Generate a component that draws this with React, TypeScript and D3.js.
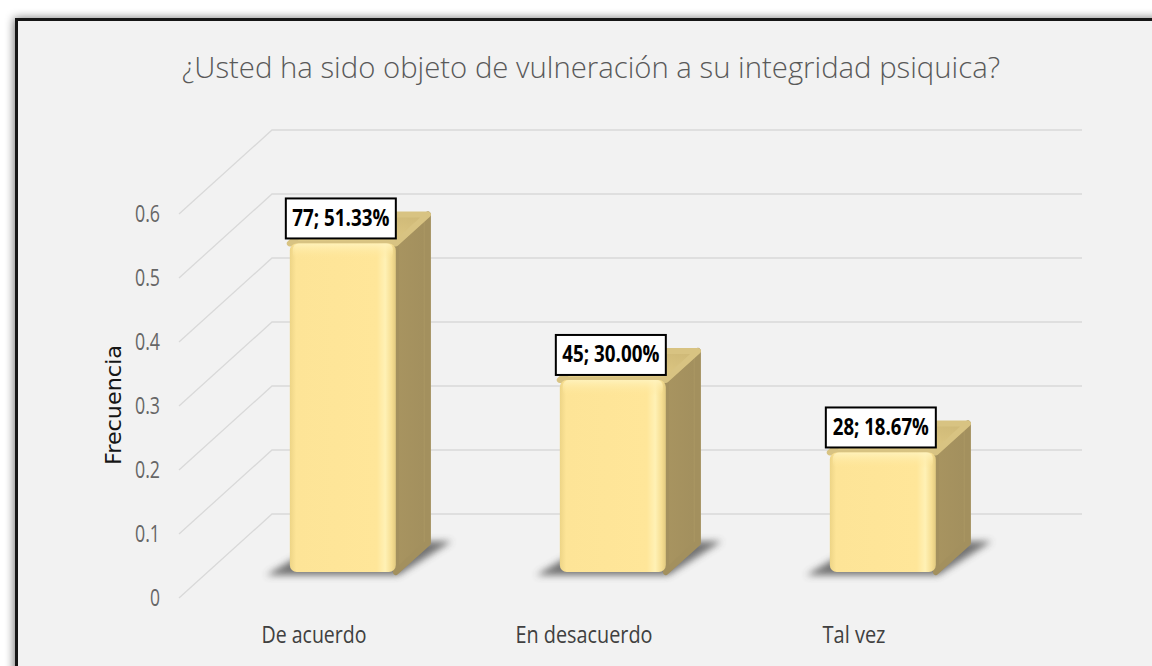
import React, { useEffect } from "react";
import * as d3 from "d3";

const categories = ["De acuerdo", "En desacuerdo", "Tal vez"];
const counts = [77, 45, 28];
const values = [0.5133, 0.3, 0.1867];
const valueLabels = ["77; 51.33%", "45; 30.00%", "28; 18.67%"];
const labelWidths = [97, 97, 96];
const categoryWidths = [105, 137, 63];
const yTicks = [0, 0.1, 0.2, 0.3, 0.4, 0.5, 0.6];
const titleText = "¿Usted ha sido objeto de vulneración a su integridad psiquica?";
const yAxisTitle = "Frecuencia";

const W = 1152;
const H = 666;
const DX = 93;
const DY = -84;
const D0 = 0.31;
const D1 = 0.655;

export default function App() {
  useEffect(() => {
    document.body.style.margin = "0";
    document.body.style.overflow = "hidden";
  }, []);
  const x = d3.scaleBand<string>().domain(categories).range([179, 989]);
  const y = d3.scaleLinear().domain([0, 0.6]).range([598, 214]);
  const barW = 106;
  const proj = (px: number, v: number, d: number): [number, number] => [px + d * DX, y(v) + d * DY];
  const pts = (arr: [number, number][]) => arr.map((p) => p.join(",")).join(" ");

  return (
    <svg width={W} height={H} style={{ position: "absolute", left: 0, top: 0 }} xmlns="http://www.w3.org/2000/svg">
      <defs>
        <filter id="frameShadow" x="-10%" y="-10%" width="120%" height="120%">
          <feGaussianBlur stdDeviation="5" />
        </filter>
        <filter id="barShadow" x="-30%" y="-100%" width="160%" height="300%">
          <feGaussianBlur stdDeviation="3.5" />
        </filter>
        <linearGradient id="frontGrad" x1="0" x2="1" y1="0" y2="0">
          <stop offset="0" stopColor="#EDD486" />
          <stop offset="0.06" stopColor="#FDE497" />
          <stop offset="0.82" stopColor="#FFE699" />
          <stop offset="0.9" stopColor="#FFF1B5" />
          <stop offset="0.96" stopColor="#F6DE92" />
          <stop offset="1" stopColor="#E2CA80" />
        </linearGradient>
        <linearGradient id="frontTop" x1="0" x2="0" y1="0" y2="1">
          <stop offset="0" stopColor="#FFF3BE" stopOpacity="0.9" />
          <stop offset="1" stopColor="#FFE699" stopOpacity="0" />
        </linearGradient>
        <linearGradient id="topGrad" x1="0" x2="1" y1="1" y2="0">
          <stop offset="0" stopColor="#E9D38C" />
          <stop offset="1" stopColor="#CDB776" />
        </linearGradient>
        <linearGradient id="sideGrad" x1="0" x2="1" y1="0" y2="0">
          <stop offset="0" stopColor="#A89460" />
          <stop offset="0.85" stopColor="#A3905E" />
          <stop offset="1" stopColor="#B8A46C" />
        </linearGradient>
      </defs>

      <rect x={0} y={0} width={W} height={H} fill="#ffffff" />
      <rect x={14} y={18} width={1200} height={700} fill="#000" opacity={0.55} filter="url(#frameShadow)" />
      <rect x={16.5} y={19.5} width={1200} height={700} fill="#f2f2f2" stroke="#161616" strokeWidth={3} />

      <text
        x={591}
        y={78}
        textAnchor="middle"
        fontFamily="'Open Sans', sans-serif"
        fontWeight={300}
        fontSize={30}
        fill="#595959"
        textLength={818}
        lengthAdjust="spacingAndGlyphs"
      >
        {titleText}
      </text>

      {yTicks.map((t) => {
        const [fx, fy] = proj(179, t, 0);
        const [bx, by] = proj(179, t, 1);
        return (
          <g key={t}>
            <polyline points={pts([[fx, fy], [bx, by], [989 + DX, by]])} fill="none" stroke="#d9d9d9" strokeWidth={1.3} />
            <text
              x={160}
              y={fy + 2}
              textAnchor="end"
              dominantBaseline="middle"
              fontFamily="'Open Sans', sans-serif"
              fontSize={24}
              fill="#666666"
              textLength={String(t).length > 1 ? 25 : 10}
              lengthAdjust="spacingAndGlyphs"
            >
              {String(t)}
            </text>
          </g>
        );
      })}

      <text
        transform={`translate(121,405) rotate(-90)`}
        textAnchor="middle"
        fontFamily="'DejaVu Sans', sans-serif"
        fontSize={21}
        fill="#151515"
        textLength={120}
        lengthAdjust="spacingAndGlyphs"
      >
        {yAxisTitle}
      </text>

      {categories.map((c, i) => {
        const left = (x(c) as number) + (x.bandwidth() - barW) / 2;
        const right = left + barW;
        const v = values[i];
        const fl0 = proj(left, 0, D0);
        const fr0 = proj(right, 0, D0);
        const flT = proj(left, v, D0);
        const frT = proj(right, v, D0);
        const brT = proj(right, v, D1);
        const blT = proj(left, v, D1);
        const br0 = proj(right, 0, D1);
        const sh = [
          proj(left - 20, 0, D0 - 0.04),
          proj(right + 6, 0, D0 - 0.04),
          proj(right + 22, 0, D1 + 0.02),
          proj(left, 0, D1 + 0.02),
        ] as [number, number][];
        const faceW = fr0[0] - fl0[0];
        const faceH = fl0[1] - flT[1];
        const cx = (fl0[0] + fr0[0]) / 2 - 2;
        const boxW = 110;
        const boxH = 40;
        const boxBottom = flT[1] - 5;
        return (
          <g key={c}>
            <polygon points={pts(sh)} fill="#4a4a4a" opacity={0.75} filter="url(#barShadow)" />
            <polygon
              points={pts([frT, brT, br0, fr0])}
              fill="url(#sideGrad)"
              stroke="#A3905E"
              strokeWidth={6}
              strokeLinejoin="round"
            />
            <polygon
              points={pts([flT, frT, brT, blT])}
              fill="url(#topGrad)"
              stroke="#D8C382"
              strokeWidth={6}
              strokeLinejoin="round"
            />
            <rect x={flT[0]} y={flT[1]} width={faceW} height={faceH} rx={7} fill="url(#frontGrad)" />
            <rect x={flT[0] + 3} y={flT[1]} width={faceW - 6} height={Math.min(16, faceH)} rx={6} fill="url(#frontTop)" />
            <rect
              x={cx - boxW / 2}
              y={boxBottom - boxH}
              width={boxW}
              height={boxH}
              fill="#ffffff"
              stroke="#000000"
              strokeWidth={2}
            />
            <text
              x={cx}
              y={boxBottom - boxH / 2 + 1}
              textAnchor="middle"
              dominantBaseline="middle"
              fontFamily="'Open Sans', sans-serif"
              fontWeight={700}
              fontSize={23}
              fill="#000000"
              textLength={labelWidths[i]}
              lengthAdjust="spacingAndGlyphs"
            >
              {valueLabels[i]}
            </text>
            <text
              x={(x(c) as number) + x.bandwidth() / 2}
              y={643}
              textAnchor="middle"
              fontFamily="'Open Sans', sans-serif"
              fontSize={24}
              fill="#404040"
              textLength={categoryWidths[i]}
              lengthAdjust="spacingAndGlyphs"
            >
              {c}
            </text>
            <desc>{`${c}: ${counts[i]}`}</desc>
          </g>
        );
      })}
    </svg>
  );
}
